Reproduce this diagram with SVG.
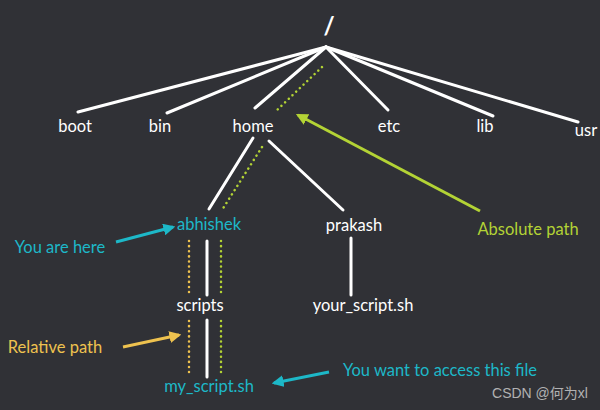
<svg xmlns="http://www.w3.org/2000/svg" width="600" height="410" viewBox="0 0 600 410">
<defs>
<style>
.t{font-family:Lato,"Open Sans",sans-serif;font-size:16.5px;fill:#ffffff;text-anchor:middle}
.teal{fill:#1db8c8}
.lime{fill:#b3d335}
.yel{fill:#eec24f}
.edge{stroke:#ffffff;stroke-width:3;stroke-linecap:round;fill:none}
.dotg{stroke:#b3d335;stroke-width:2.5;stroke-linecap:round;stroke-dasharray:0.1 5;fill:none}
.doty{stroke:#eec24f;stroke-width:2.5;stroke-linecap:round;stroke-dasharray:0.1 5;fill:none}
</style>
<marker id="ah-teal" viewBox="0 0 10 10" refX="8" refY="5" markerWidth="4" markerHeight="4" orient="auto"><path d="M0,0 L10,5 L0,10 Z" fill="#1db8c8"/></marker>
<marker id="ah-lime" viewBox="0 0 10 10" refX="8" refY="5" markerWidth="4" markerHeight="4" orient="auto"><path d="M0,0 L10,5 L0,10 Z" fill="#b3d335"/></marker>
<marker id="ah-yel" viewBox="0 0 10 10" refX="8" refY="5" markerWidth="4" markerHeight="4" orient="auto"><path d="M0,0 L10,5 L0,10 Z" fill="#eec24f"/></marker>
</defs>
<rect width="600" height="410" fill="#303136"/>
<g id="connectors">
<line class="edge" x1="326" y1="47" x2="78" y2="112"/>
<line class="edge" x1="326" y1="47" x2="167" y2="113"/>
<line class="edge" x1="326" y1="47" x2="255" y2="108"/>
<line class="edge" x1="326" y1="47" x2="388" y2="110"/>
<line class="edge" x1="326" y1="47" x2="493" y2="116"/>
<line class="edge" x1="326" y1="47" x2="578" y2="122"/>
<line class="edge" x1="253" y1="138" x2="209" y2="209"/>
<line class="edge" x1="269" y1="141" x2="343" y2="210"/>
<line class="edge" x1="207" y1="241" x2="207" y2="295"/>
<line class="edge" x1="207" y1="320" x2="207" y2="377"/>
<line class="edge" x1="351" y1="238" x2="351" y2="295"/>
<line class="dotg" x1="322" y1="67" x2="276" y2="111"/>
<line class="dotg" x1="262" y1="147" x2="222" y2="210"/>
<line class="dotg" x1="221" y1="241" x2="221" y2="295"/>
<line class="dotg" x1="221" y1="321" x2="221" y2="377"/>
<line class="doty" x1="189" y1="241" x2="189" y2="295"/>
<line class="doty" x1="189" y1="321" x2="189" y2="377"/>
<line x1="480" y1="211" x2="298" y2="115" stroke="#b3d335" stroke-width="3" marker-end="url(#ah-lime)"/>
<line x1="116" y1="242" x2="173" y2="227" stroke="#1db8c8" stroke-width="3" marker-end="url(#ah-teal)"/>
<line x1="123" y1="347" x2="179" y2="335" stroke="#eec24f" stroke-width="3" marker-end="url(#ah-yel)"/>
<line x1="329" y1="372" x2="274" y2="383" stroke="#1db8c8" stroke-width="3" marker-end="url(#ah-teal)"/>
</g>
<g id="root"><text class="t" x="329" y="35" style="font-size:24px;font-weight:bold">/</text></g>
<g id="boot"><text class="t" x="75" y="132">boot</text></g>
<g id="bin"><text class="t" x="160" y="132">bin</text></g>
<g id="home"><text class="t" x="253" y="132">home</text></g>
<g id="etc"><text class="t" x="389" y="132">etc</text></g>
<g id="lib"><text class="t" x="485" y="132">lib</text></g>
<g id="usr"><text class="t" x="586" y="136">usr</text></g>
<g id="abhishek"><text class="t teal" x="209" y="230">abhishek</text></g>
<g id="prakash"><text class="t" x="354" y="231">prakash</text></g>
<g id="scripts"><text class="t" x="200" y="311">scripts</text></g>
<g id="your_script"><text class="t" x="363" y="311">your_script.sh</text></g>
<g id="my_script"><text class="t teal" x="209" y="392">my_script.sh</text></g>
<g id="label-here"><text class="t teal" x="60" y="253">You are here</text></g>
<g id="label-relative"><text class="t yel" x="55" y="353">Relative path</text></g>
<g id="label-absolute"><text class="t lime" x="528" y="235">Absolute path</text></g>
<g id="label-access"><text class="t teal" x="440" y="376">You want to access this file</text></g>
<text x="540" y="398" style="font-family:'Liberation Sans','Noto Sans CJK SC',sans-serif;font-size:14px;fill:#c8c8c8;text-anchor:middle;opacity:0.85">CSDN @何为xl</text>
</svg>
